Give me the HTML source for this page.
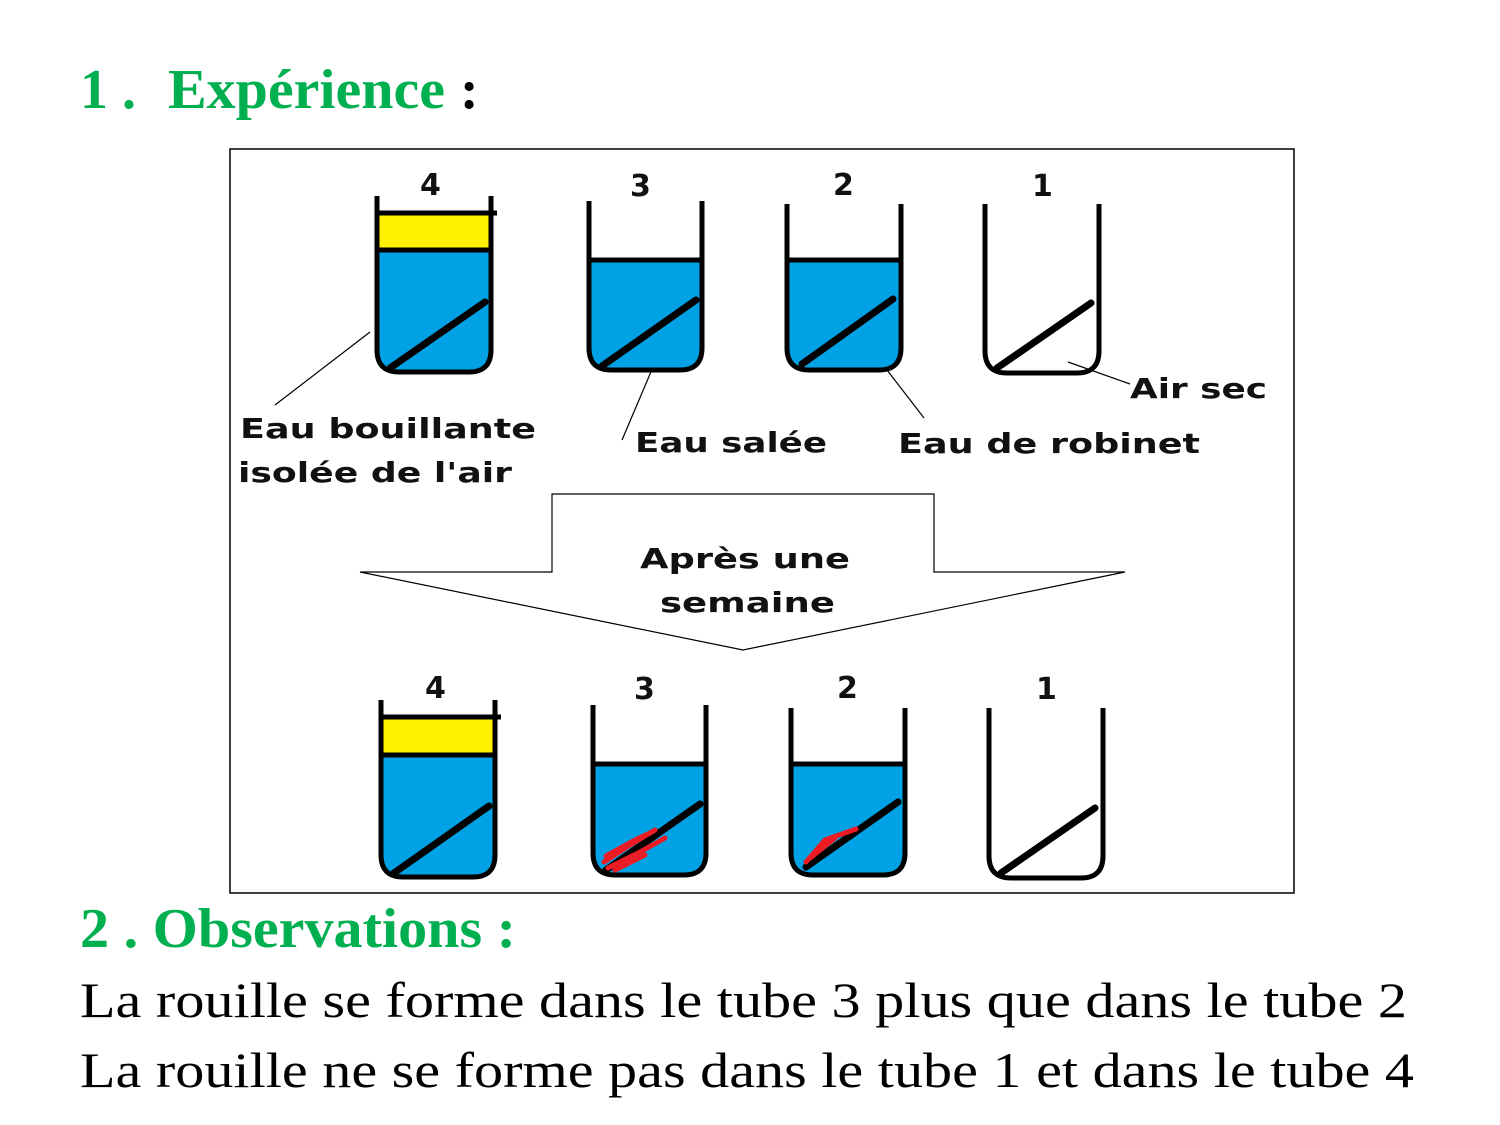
<!DOCTYPE html><html><head><style>body{margin:0;background:#fff}svg{display:block}</style></head><body>
<svg width="1500" height="1125" xmlns="http://www.w3.org/2000/svg">
<g font-family="Liberation Serif" font-weight="bold" font-size="56" fill="#00b050">
<text x="80" y="108">1 .</text>
<text x="168" y="108" textLength="277" lengthAdjust="spacingAndGlyphs">Expérience</text>
<text x="460" y="108" fill="#000">:</text>
<text x="80" y="947" textLength="436" lengthAdjust="spacingAndGlyphs">2 . Observations :</text>
</g>
<rect x="230" y="149" width="1064" height="744" fill="none" stroke="#000" stroke-width="1.5"/>
<g font-family="DejaVu Sans" font-weight="bold" font-size="30" fill="#111">
<text x="420" y="195">4</text><text x="630" y="196">3</text><text x="833" y="195">2</text><text x="1032" y="196">1</text>
<text x="425" y="698">4</text><text x="634" y="699">3</text><text x="837" y="698">2</text><text x="1036" y="699">1</text>
</g>
<g font-family="DejaVu Sans" font-weight="bold" font-size="28" fill="#111">
<text x="240" y="438" textLength="296" lengthAdjust="spacingAndGlyphs">Eau bouillante</text>
<text x="238" y="482" textLength="274" lengthAdjust="spacingAndGlyphs">isolée de l'air</text>
<text x="635" y="452" textLength="192" lengthAdjust="spacingAndGlyphs">Eau salée</text>
<text x="898" y="453" textLength="302" lengthAdjust="spacingAndGlyphs">Eau de robinet</text>
<text x="1130" y="398" textLength="137" lengthAdjust="spacingAndGlyphs">Air sec</text>
<text x="640" y="568" textLength="210" lengthAdjust="spacingAndGlyphs">Après une</text>
<text x="660" y="612" textLength="175" lengthAdjust="spacingAndGlyphs">semaine</text>
</g>
<polygon points="552,494 934,494 934,572 1125,572 743,650 360,572 552,572" fill="none" stroke="#000" stroke-width="1.2"/>
<g stroke="#000" stroke-width="1.2">
<line x1="275" y1="405" x2="370" y2="332"/><line x1="622" y1="440" x2="656" y2="360"/>
<line x1="887" y1="370" x2="924" y2="418"/><line x1="1068" y1="362" x2="1130" y2="384"/>
</g>
<g stroke="#000" stroke-width="5">
<rect x="379" y="213" width="112" height="37" fill="#fff200" stroke="none"/>
<path d="M379,250 H491 V350 Q491,372 469,372 H399 Q379,372 379,350Z" fill="#00a2e5" stroke="none"/>
<line x1="377" y1="213" x2="497" y2="213"/><line x1="377" y1="250" x2="493" y2="250"/>
<path d="M377,196 V350 Q377,372 399,372 H469 Q491,372 491,350 V196" fill="none"/>
<path d="M591,260 H702 V348 Q702,370 680,370 H611 Q591,370 591,348Z" fill="#00a2e5" stroke="none"/>
<line x1="589" y1="260" x2="704" y2="260"/>
<path d="M589,201 V348 Q589,370 611,370 H680 Q702,370 702,348 V201" fill="none"/>
<path d="M789,260 H901 V348 Q901,370 879,370 H809 Q789,370 789,348Z" fill="#00a2e5" stroke="none"/>
<line x1="787" y1="260" x2="903" y2="260"/>
<path d="M787,204 V348 Q787,370 809,370 H879 Q901,370 901,348 V204" fill="none"/>
<path d="M985,204 V351 Q985,373 1007,373 H1077 Q1099,373 1099,351 V204" fill="none"/>
</g>
<g stroke="#000" stroke-width="7" stroke-linecap="round">
<line x1="390" y1="368" x2="485" y2="302"/><line x1="602" y1="366" x2="696" y2="300"/>
<line x1="802" y1="364" x2="893" y2="299"/><line x1="997" y1="368" x2="1091" y2="303"/>
</g>
<g stroke="#000" stroke-width="5">
<rect x="383" y="717" width="112" height="38" fill="#fff200" stroke="none"/>
<path d="M383,755 H495 V855 Q495,877 473,877 H403 Q383,877 383,855Z" fill="#00a2e5" stroke="none"/>
<line x1="381" y1="717" x2="501" y2="717"/><line x1="381" y1="755" x2="497" y2="755"/>
<path d="M381,700 V855 Q381,877 403,877 H473 Q495,877 495,855 V700" fill="none"/>
<path d="M595,764 H706 V853 Q706,875 684,875 H615 Q595,875 595,853Z" fill="#00a2e5" stroke="none"/>
<line x1="593" y1="764" x2="708" y2="764"/>
<path d="M593,705 V853 Q593,875 615,875 H684 Q706,875 706,853 V705" fill="none"/>
<path d="M793,764 H905 V853 Q905,875 883,875 H813 Q793,875 793,853Z" fill="#00a2e5" stroke="none"/>
<line x1="791" y1="764" x2="907" y2="764"/>
<path d="M791,708 V853 Q791,875 813,875 H883 Q905,875 905,853 V708" fill="none"/>
<path d="M989,708 V856 Q989,878 1011,878 H1081 Q1103,878 1103,856 V708" fill="none"/>
</g>
<g stroke="#000" stroke-width="7" stroke-linecap="round">
<line x1="394" y1="873" x2="489" y2="806"/><line x1="606" y1="870" x2="700" y2="804"/>
<line x1="806" y1="867" x2="898" y2="802"/><line x1="1001" y1="873" x2="1095" y2="808"/>
</g>
<g stroke="#ed1c24" stroke-width="5" stroke-linecap="round" fill="none">
<path d="M604,862 L630,845 L655,830"/><path d="M608,868 L640,852 L665,838"/><path d="M615,870 L645,855"/><path d="M606,856 L635,840 L652,832"/>
<path d="M806,862 L825,840 L856,829"/><path d="M810,858 L835,838"/>
</g>
<g font-family="Liberation Serif" font-size="50" fill="#000">
<text x="80" y="1017" textLength="1327" lengthAdjust="spacingAndGlyphs">La rouille se forme dans le tube 3 plus que dans le tube 2</text>
<text x="80" y="1087" textLength="1334" lengthAdjust="spacingAndGlyphs">La rouille ne se forme pas dans le tube 1 et dans le tube 4</text>
</g>
</svg>
</body></html>
